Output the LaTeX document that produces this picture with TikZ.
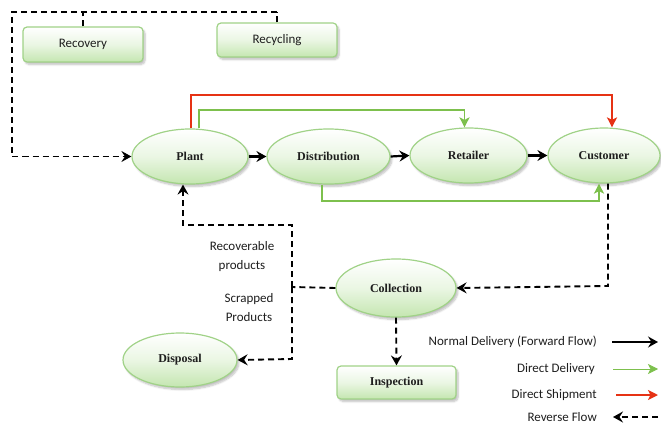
\documentclass[tikz,border=0pt]{standalone}
\usepackage{fontspec}
\setmainfont{Liberation Serif}
\newfontfamily\serfont{Liberation Serif}
\newfontfamily\calfont{Carlito}
\usetikzlibrary{arrows.meta,shapes.geometric,shadows.blur}
\definecolor{nodeborder}{RGB}{160,210,135}
\definecolor{nodefill}{RGB}{196,230,176}
\definecolor{dgreen}{RGB}{125,192,77}
\definecolor{dred}{RGB}{230,50,20}
\definecolor{txt}{RGB}{30,30,30}
\begin{document}
\begin{tikzpicture}[x=1pt,y=-1pt,
  base/.style={draw=nodeborder, line width=1.2pt, top color=white, bottom color=nodefill, middle color=nodefill!35,
     blur shadow={shadow xshift=2pt, shadow yshift=-2.5pt, shadow blur steps=6, shadow opacity=25},
     inner sep=0pt, text=txt, font=\serfont\bfseries\fontsize{12}{14}\selectfont},
  ell/.style={base, ellipse},
  box/.style={base, rectangle, rounded corners=4pt},
  cbox/.style={box, font=\calfont\fontsize{13}{15}\selectfont},
  lab/.style={font=\calfont\fontsize{13}{19}\selectfont, text=txt, align=center, inner sep=0pt},
  fwd/.style={draw=black, line width=2.2pt, -{Stealth[length=10pt,width=11pt,inset=3.5pt]}},
  rev/.style={draw=black, line width=1.9pt, dash pattern=on 6pt off 4pt, -{Stealth[length=10pt,width=11pt,inset=3.5pt]}},
  ddel/.style={draw=dgreen, line width=1.8pt, -{Stealth[length=10pt,width=10pt,inset=2.5pt]}},
  dship/.style={draw=dred, line width=2pt, -{Stealth[length=10pt,width=10pt,inset=2.5pt]}},
  plainrev/.style={draw=black, line width=1.9pt, dash pattern=on 6pt off 4pt}
]
\useasboundingbox (0,0) rectangle (661,425);

% nodes
\node[cbox, minimum width=120pt, minimum height=35pt] (recovery) at (83,44.5) {Recovery};
\node[cbox, minimum width=120pt, minimum height=34pt] (recycling) at (277,40) {Recycling};

\node[ell, minimum width=116pt, minimum height=55pt] (plant) at (190,156.5) {Plant};
\node[ell, minimum width=123pt, minimum height=55pt] (distribution) at (328.5,156.5) {Distribution};
\node[ell, minimum width=117pt, minimum height=55pt] (retailer) at (468.5,155.5) {Retailer};
\node[ell, minimum width=112pt, minimum height=55pt] (customer) at (604,155.5) {Customer};

\node[ell, minimum width=120pt, minimum height=58pt] (collection) at (396,288) {Collection};
\node[ell, minimum width=114pt, minimum height=54pt] (disposal) at (180,360) {Disposal};
\node[box, minimum width=119pt, minimum height=33pt] (inspection) at (396.5,382.5) {Inspection};

\node[lab] (recov) at (242,256.5) {Recoverable\\products};
\node[lab] (scrap) at (249,307.5) {Scrapped\\Products};

% forward flow
\draw[fwd] (plant.east) -- (distribution.west);
\draw[fwd] (distribution.east) -- (retailer.west);
\draw[fwd] (retailer.east) -- (customer.west);

% direct shipment / delivery
\draw[dship] ([xshift=1pt]plant.north) -- ++(0,-33) -| ([xshift=8pt]customer.north);
\draw[ddel] ([xshift=9pt]plant.north) -- ++(0,-18) -| ([xshift=-4pt]retailer.north);
\draw[ddel] ([xshift=-6.5pt]distribution.south) -- ++(0,16) -| ([xshift=-5pt]customer.south);

% reverse flow
\coordinate (tl) at (12,12);
\coordinate (tr) at (277,12);
\draw[plainrev] (recovery.north) -- (recovery.north |- tl);
\draw[plainrev] (recycling.north) -- (tr);
\draw[rev] (tr) -- (tl) |- (plant.west);

\coordinate (cr) at (608,286);
\draw[rev] ([xshift=4pt]customer.south) -- (cr) -- (collection.east);

\coordinate (jn) at (292,287);
\coordinate (up) at (292,225);
\coordinate (dn) at (292,359);
\draw[plainrev] (collection.west) -- (jn);
\draw[rev] (jn) -- (up) -| ([xshift=-7pt]plant.south);
\draw[rev] (jn) -- (dn) -- (disposal.east);
\draw[rev] (collection.south) -- (inspection.north);

% legend
\node[lab, anchor=east] (l1) at (597,342) {Normal Delivery (Forward Flow)};
\node[lab, anchor=east] (l2) at (595,369) {Direct Delivery};
\node[lab, anchor=east] (l3) at (597,395) {Direct Shipment};
\node[lab, anchor=east] (l4) at (597,417) {Reverse Flow};
\coordinate (a1) at (612,342); \coordinate (b1) at (658,342);
\coordinate (a2) at (613,369); \coordinate (b2) at (658,369);
\coordinate (a3) at (616,395); \coordinate (b3) at (658,395);
\coordinate (a4) at (613,417); \coordinate (b4) at (658,417);
\draw[fwd] (a1) -- (b1);
\draw[ddel, line width=0.9pt] (a2) -- (b2);
\draw[dship] (a3) -- (b3);
\draw[rev] (b4) -- (a4);
\end{tikzpicture}
\end{document}
